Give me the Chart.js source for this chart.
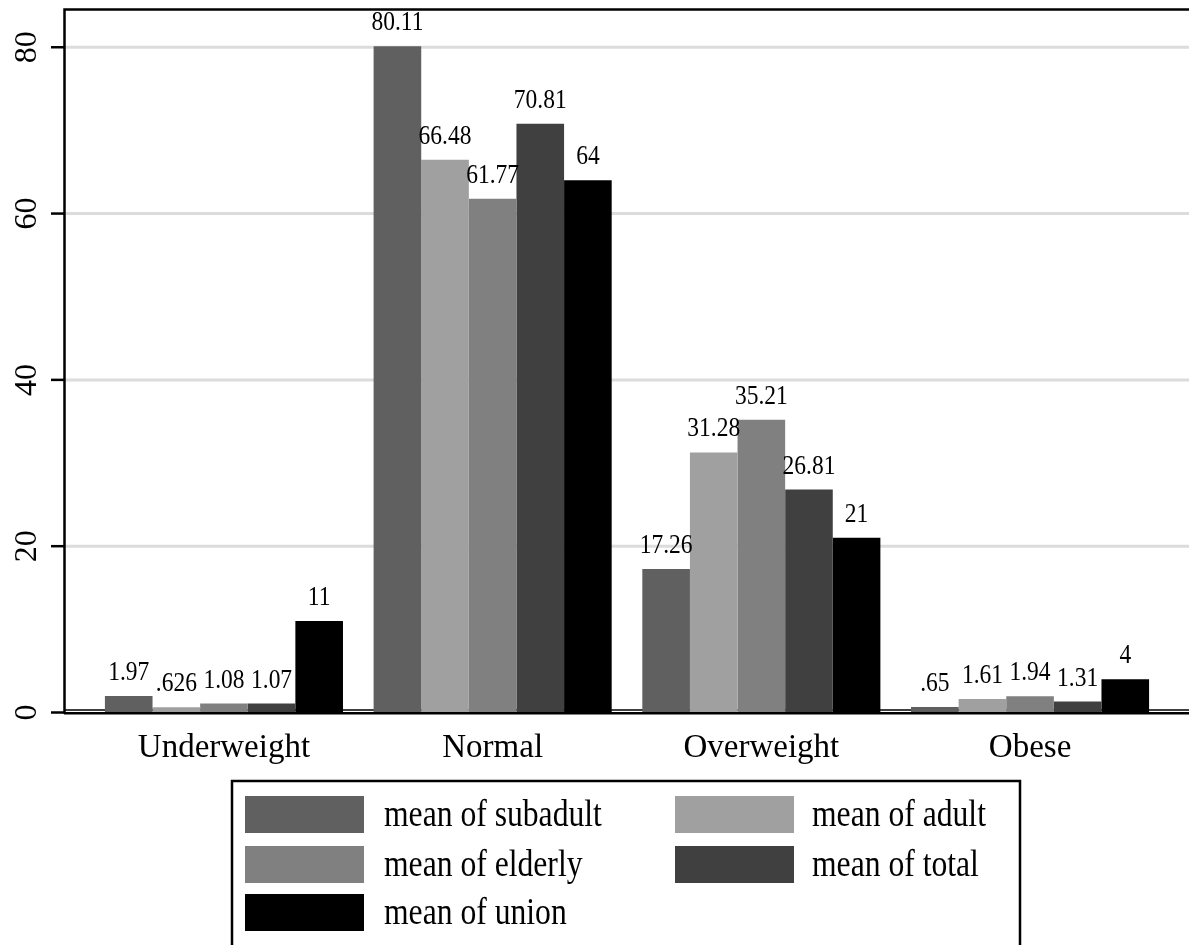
<!DOCTYPE html>
<html>
<head>
<meta charset="utf-8">
<script src="https://cdn.jsdelivr.net/npm/chart.js@4.4.0/dist/chart.umd.min.js"></script>
<style>
  html, body { margin: 0; padding: 0; background: #fff; }
  #wrap { width: 1189px; height: 945px; position: relative; }
</style>
</head>
<body>
<div id="wrap"><canvas id="bmiChart"></canvas></div>
<script>
// Chart data
const categories = ['Underweight', 'Normal', 'Overweight', 'Obese'];
const seriesNames = ['mean of subadult', 'mean of adult', 'mean of elderly', 'mean of total', 'mean of union'];
const subadult = [1.97, 80.11, 17.26, 0.65];
const adult = [0.626, 66.48, 31.28, 1.61];
const elderly = [1.08, 61.77, 35.21, 1.94];
const total = [1.07, 70.81, 26.81, 1.31];
const union = [11, 64, 21, 4];
const yTicks = [0, 20, 40, 60, 80];
const seriesColors = ['#606060', '#a0a0a0', '#808080', '#404040', '#000000'];

const FONT = "'Liberation Serif', 'Times New Roman', serif";

// Stata style number format (.626 instead of 0.626)
function fmt(v) {
    return String(v).replace(/^0\./, '.');
}

function hline(ctx, x1, x2, y) {
    ctx.beginPath();
    ctx.moveTo(x1, y);
    ctx.lineTo(x2, y);
    ctx.stroke();
}

// Frame, grid, value labels and legend in the Stata look
const stataPlugin = {
    id: 'stataLook',
    beforeDatasetsDraw(chart) {
        const ctx = chart.ctx;
        const y = chart.scales.y;
        ctx.save();
        ctx.strokeStyle = '#dcdcdc';
        ctx.lineWidth = 3;
        yTicks.forEach(v => {
            if (v === 0) return;
            hline(ctx, 64, 1189, y.getPixelForValue(v));
        });
        ctx.strokeStyle = '#000';
        ctx.lineWidth = 1.5;
        hline(ctx, 64, 1189, 710);
        ctx.restore();
    },
    afterDatasetsDraw(chart) {
        const ctx = chart.ctx;
        const y = chart.scales.y;
        ctx.save();

        // value labels above bars
        ctx.fillStyle = '#000';
        ctx.font = '27px ' + FONT;
        ctx.textAlign = 'center';
        ctx.textBaseline = 'alphabetic';
        chart.data.datasets.forEach((ds, i) => {
            chart.getDatasetMeta(i).data.forEach((bar, j) => {
                ctx.save();
                ctx.translate(bar.x, bar.y - 16);
                ctx.scale(0.87, 1);
                ctx.fillText(fmt(ds.data[j]), 0, 0);
                ctx.restore();
            });
        });

        // plot frame
        ctx.strokeStyle = '#000';
        ctx.lineWidth = 2.5;
        ctx.beginPath();
        ctx.moveTo(1190, 9.5);
        ctx.lineTo(64.5, 9.5);
        ctx.lineTo(64.5, 714);
        ctx.stroke();
        hline(ctx, 64, 1189, 713.2);

        // y tick marks
        yTicks.forEach(v => {
            hline(ctx, 51, 64, y.getPixelForValue(v));
        });
        ctx.restore();
    },
    afterDraw(chart) {
        const ctx = chart.ctx;
        ctx.save();
        ctx.strokeStyle = '#000';
        ctx.lineWidth = 2.5;
        ctx.strokeRect(232, 781, 788, 200);

        const colX = [245, 675];
        const textX = [384, 812];
        const rowY = [796, 846, 894];
        ctx.font = '37px ' + FONT;
        ctx.textAlign = 'left';
        ctx.textBaseline = 'alphabetic';
        chart.data.datasets.forEach((ds, i) => {
            const col = i % 2;
            const row = Math.floor(i / 2);
            ctx.fillStyle = ds.backgroundColor;
            ctx.fillRect(colX[col], rowY[row], 119, 37);
            ctx.fillStyle = '#000';
            ctx.save();
            ctx.translate(textX[col], rowY[row] + 30);
            ctx.scale(0.855, 1);
            ctx.fillText(ds.label, 0, 0);
            ctx.restore();
        });
        ctx.restore();
    }
};

function noScalePadding(scale) {
    scale.paddingTop = 0;
    scale.paddingBottom = 0;
    scale.paddingLeft = 0;
    scale.paddingRight = 0;
}

function initBmiChart() {
    const ctx = document.getElementById('bmiChart').getContext('2d');
    const values = [subadult, adult, elderly, total, union];

    new Chart(ctx, {
        type: 'bar',
        data: {
            labels: categories,
            datasets: values.map((data, i) => ({
                label: seriesNames[i],
                data: data,
                backgroundColor: seriesColors[i],
                borderWidth: 0,
                categoryPercentage: 0.886,
                barPercentage: 1
            }))
        },
        options: {
            responsive: true,
            maintainAspectRatio: false,
            animation: false,
            layout: {
                padding: { left: 0, right: 24.6, top: 9, bottom: 0 }
            },
            scales: {
                x: {
                    grid: { display: false, drawTicks: false },
                    border: { display: false },
                    ticks: {
                        color: '#000',
                        padding: 16,
                        font: { family: FONT, size: 33 }
                    },
                    afterFit: scale => {
                        scale.height = 232.5;
                        noScalePadding(scale);
                    }
                },
                y: {
                    min: 0,
                    max: 84.6,
                    grid: { display: false, drawTicks: false },
                    border: { display: false },
                    afterBuildTicks: scale => {
                        scale.ticks = yTicks.map(v => ({ value: v }));
                    },
                    ticks: {
                        color: '#000',
                        minRotation: 90,
                        maxRotation: 90,
                        crossAlign: 'center',
                        padding: 46,
                        font: { family: FONT, size: 32 }
                    },
                    afterFit: scale => {
                        scale.width = 89.6;
                        noScalePadding(scale);
                    }
                }
            },
            plugins: {
                legend: { display: false },
                tooltip: { enabled: false }
            }
        },
        plugins: [stataPlugin]
    });
}

document.addEventListener('DOMContentLoaded', initBmiChart);
</script>
</body>
</html>
